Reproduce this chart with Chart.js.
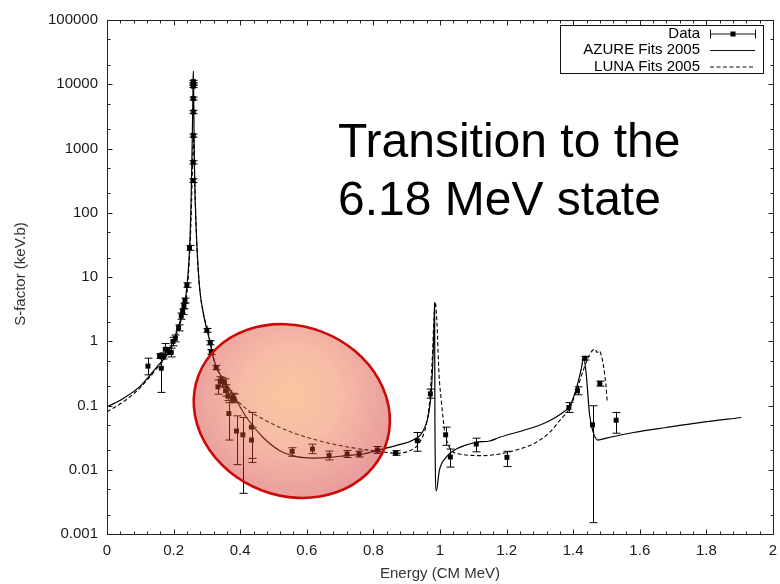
<!DOCTYPE html>
<html>
<head>
<meta charset="utf-8">
<script src="https://cdn.jsdelivr.net/npm/chart.js@4.4.1/dist/chart.umd.min.js"></script>
<style>
  html, body { margin: 0; padding: 0; background: #fff; }
  canvas { display: block; }
</style>
</head>
<body>
<canvas id="chart" width="780" height="584"></canvas>
<script>
// Measured S-factor points: energy (MeV, CM), value and error limits (keV b)
const energy = [0.123, 0.158, 0.163, 0.168, 0.175, 0.183, 0.193, 0.198, 0.205, 0.215, 0.223, 0.227, 0.231, 0.234, 0.240, 0.248,
  0.2585, 0.2588, 0.2590, 0.2591, 0.2591, 0.2591, 0.2591, 0.2591,
  0.300, 0.310, 0.313, 0.328, 0.333, 0.340, 0.346, 0.353, 0.356, 0.363, 0.366, 0.377, 0.381, 0.389, 0.408, 0.434, 0.434,
  0.556, 0.617, 0.667, 0.721, 0.757, 0.812, 0.867, 0.932, 0.971, 1.017, 1.031, 1.109, 1.201,
  1.387, 1.413, 1.435, 1.458, 1.480, 1.529];
const sFactor = [0.41, 0.59, 0.38, 0.59, 0.75, 0.71, 0.67, 0.99, 1.11, 1.63, 2.47, 2.90, 3.53, 4.33, 7.5, 28.4,
  316, 610, 1590, 3700, 6000, 9300, 10000, 11000,
  1.48, 0.95, 0.68, 0.39, 0.195, 0.24, 0.235, 0.227, 0.17, 0.14, 0.075, 0.133, 0.128, 0.040, 0.035, 0.046, 0.029,
  0.0193, 0.021, 0.0166, 0.0176, 0.0176, 0.0203, 0.0182, 0.0283, 0.152, 0.035, 0.0158, 0.0251, 0.0156,
  0.093, 0.169, 0.544, 0.050, 0.22, 0.059];
const errLow = [0.30, 0.54, 0.16, 0.53, 0.62, 0.62, 0.57, 0.85, 0.98, 1.45, 2.20, 2.60, 3.20, 3.95, 6.9, 26,
  295, 575, 1500, 3500, 5700, 8900, 9600, 10500,
  1.38, 0.88, 0.62, 0.36, 0.15, 0.20, 0.20, 0.19, 0.14, 0.12, 0.029, 0.115, 0.11, 0.012, 0.0043, 0.015, 0.013,
  0.0162, 0.0178, 0.0142, 0.0155, 0.0158, 0.018, 0.0168, 0.0194, 0.13, 0.024, 0.011, 0.019, 0.0112,
  0.078, 0.147, 0.51, 0.0015, 0.20, 0.037];
const errHigh = [0.545, 0.64, 0.60, 0.66, 0.92, 0.80, 0.78, 1.15, 1.25, 1.80, 2.75, 3.20, 3.90, 4.70, 8.1, 31,
  338, 645, 1680, 3900, 6300, 9700, 10400, 11500,
  1.58, 1.02, 0.74, 0.42, 0.25, 0.28, 0.27, 0.26, 0.21, 0.17, 0.111, 0.155, 0.15, 0.069, 0.065, 0.078, 0.046,
  0.022, 0.025, 0.0195, 0.020, 0.0195, 0.023, 0.0198, 0.038, 0.18, 0.046, 0.021, 0.031, 0.0194,
  0.111, 0.195, 0.58, 0.099, 0.24, 0.078];

// AZURE R-matrix fit
const azureE = [0, 0.05, 0.10, 0.15, 0.18, 0.20, 0.22, 0.23, 0.24, 0.248, 0.252, 0.255, 0.257, 0.2585, 0.2592, 0.260, 0.261, 0.262, 0.263,
  0.268, 0.272, 0.278, 0.290, 0.300, 0.310, 0.318, 0.329, 0.350, 0.378, 0.419, 0.468, 0.519, 0.569, 0.619, 0.669, 0.719, 0.769, 0.819,
  0.869, 0.919, 0.949, 0.967, 0.974, 0.979, 0.9825, 0.9838, 0.9848, 0.989, 0.998, 1.018, 1.049, 1.109, 1.149, 1.179, 1.279, 1.329,
  1.369, 1.390, 1.410, 1.425, 1.431, 1.439, 1.449, 1.459, 1.474, 1.500, 1.580, 1.680, 1.780, 1.905];
const azureS = [0.095, 0.13, 0.20, 0.40, 0.62, 1.05, 2.1, 3.3, 7.0, 28, 120, 700, 3000, 10000, 16000, 10000, 3000, 1000, 400,
  55, 20, 6.8, 2.6, 1.5, 0.95, 0.59, 0.39, 0.25, 0.15, 0.065, 0.032, 0.0198, 0.016, 0.0152, 0.0156, 0.0166, 0.0176, 0.0205,
  0.024, 0.029, 0.040, 0.08, 0.17, 0.56, 2.0, 4.0, 0.05, 0.0047, 0.0097, 0.0156, 0.021, 0.0267, 0.028, 0.032, 0.0455, 0.058,
  0.078, 0.099, 0.19, 0.39, 0.56, 0.31, 0.073, 0.040, 0.029, 0.031, 0.038, 0.0455, 0.054, 0.065];

// LUNA fit
const lunaE = [0, 0.05, 0.10, 0.15, 0.18, 0.20, 0.22, 0.24, 0.245, 0.25, 0.254, 0.257, 0.260, 0.262, 0.264, 0.268, 0.272, 0.278,
  0.290, 0.303, 0.310, 0.318, 0.329, 0.350, 0.378, 0.419, 0.468, 0.519, 0.569, 0.619, 0.669, 0.719, 0.769, 0.819, 0.869, 0.919,
  0.939, 0.959, 0.969, 0.977, 0.982, 0.986, 0.991, 0.997, 1.004, 1.014, 1.029, 1.059, 1.129, 1.179, 1.229, 1.279, 1.329, 1.359,
  1.390, 1.410, 1.430, 1.450, 1.465, 1.472, 1.478, 1.490, 1.498, 1.502];
const lunaS = [0.08, 0.115, 0.19, 0.38, 0.60, 0.95, 1.9, 5.5, 12, 35, 150, 600, 1500, 700, 250, 50, 18, 6.8,
  2.6, 1.5, 0.95, 0.60, 0.39, 0.24, 0.145, 0.088, 0.0615, 0.0455, 0.036, 0.030, 0.0257, 0.0228, 0.0207, 0.0193, 0.018, 0.021,
  0.0267, 0.051, 0.118, 0.56, 2.3, 4.0, 1.84, 0.31, 0.118, 0.040, 0.022, 0.0176, 0.0166, 0.0176, 0.0203, 0.0251, 0.038, 0.058,
  0.093, 0.169, 0.35, 0.63, 0.75, 0.67, 0.71, 0.44, 0.215, 0.118];

const xTickValues = [0, 0.2, 0.4, 0.6, 0.8, 1, 1.2, 1.4, 1.6, 1.8, 2];
const yTickValues = [0.001, 0.01, 0.1, 1, 10, 100, 1000, 10000, 100000];

const seriesLabels = ['Data', 'AZURE Fits 2005', 'LUNA Fits 2005'];
const headline = ['Transition to the', '6.18 MeV state'];
const xTitle = 'Energy (CM MeV)';
const yTitle = 'S-factor (keV.b)';

// Highlighted low-energy region, in data units (centre, half-widths in MeV and decades)
const highlight = { e: 0.555, s: 0.082, halfE: 0.30, halfDecades: 1.32, tiltDeg: 21 };

const FONT = '"Liberation Sans", Arial, Helvetica, sans-serif';
Chart.defaults.font.family = FONT;

const toPoints = (xs, ys) => xs.map((x, i) => ({ x: x, y: ys[i] }));

// Error bars, then the translucent highlight ellipse on top of the data
const overlayPlugin = {
  id: 'overlay',
  afterDatasetsDraw(chart) {
    const { ctx, scales: { x, y } } = chart;
    ctx.save();
    ctx.strokeStyle = '#000';
    ctx.lineWidth = 1;
    ctx.beginPath();
    for (let i = 0; i < energy.length; i++) {
      const px = Math.round(x.getPixelForValue(energy[i])) + 0.5;
      const y1 = y.getPixelForValue(errLow[i]);
      const y2 = y.getPixelForValue(errHigh[i]);
      ctx.moveTo(px, y1); ctx.lineTo(px, y2);
      ctx.moveTo(px - 4, y1); ctx.lineTo(px + 4, y1);
      ctx.moveTo(px - 4, y2); ctx.lineTo(px + 4, y2);
    }
    ctx.stroke();

    const cx = x.getPixelForValue(highlight.e);
    const cy = y.getPixelForValue(highlight.s);
    const rx = x.getPixelForValue(highlight.e + highlight.halfE) - cx;
    const ry = cy - y.getPixelForValue(highlight.s * Math.pow(10, highlight.halfDecades));
    ctx.translate(cx, cy);
    ctx.rotate(highlight.tiltDeg * Math.PI / 180);
    const g = ctx.createRadialGradient(-6, -14, 0, -6, -14, Math.max(rx, ry) * 1.05);
    g.addColorStop(0, 'rgba(250,128,40,0.45)');
    g.addColorStop(0.45, 'rgba(236,100,48,0.43)');
    g.addColorStop(1, 'rgba(205,35,35,0.45)');
    ctx.beginPath();
    ctx.ellipse(0, 0, rx, ry, 0, 0, Math.PI * 2);
    ctx.fillStyle = g;
    ctx.fill();
    ctx.lineWidth = 2.6;
    ctx.strokeStyle = '#cc0a0a';
    ctx.stroke();
    ctx.restore();
  }
};

// Frame, inward ticks, axis titles, legend box and headline
const decorPlugin = {
  id: 'decor',
  afterDraw(chart) {
    const { ctx, chartArea: a, scales: { x, y } } = chart;
    ctx.save();
    ctx.strokeStyle = '#222';
    ctx.lineWidth = 1;
    const L = Math.round(a.left) + 0.5, R = Math.round(a.right) + 0.5;
    const T = Math.round(a.top) + 0.5, B = Math.round(a.bottom) + 0.5;
    ctx.strokeRect(L, T, R - L, B - T);

    ctx.beginPath();
    for (let k = 0; k <= 50; k++) {
      const v = k * 0.04;
      const px = Math.round(x.getPixelForValue(v)) + 0.5;
      const len = (k % 5 === 0) ? 5 : 3;
      ctx.moveTo(px, B); ctx.lineTo(px, B - len);
      ctx.moveTo(px, T); ctx.lineTo(px, T + len);
    }
    for (let d = -3; d <= 5; d++) {
      [1, 2, 5].forEach(m => {
        const v = m * Math.pow(10, d);
        if (v > 100000 * 1.0001) return;
        const py = Math.round(y.getPixelForValue(v)) + 0.5;
        const len = m === 1 ? 5 : 3;
        ctx.moveTo(L, py); ctx.lineTo(L + len, py);
        ctx.moveTo(R, py); ctx.lineTo(R - len, py);
      });
    }
    ctx.stroke();

    // axis titles
    ctx.fillStyle = '#333';
    ctx.font = '15px ' + FONT;
    ctx.textAlign = 'center';
    ctx.textBaseline = 'middle';
    ctx.fillText(xTitle, (a.left + a.right) / 2, 574);
    ctx.save();
    ctx.translate(21, 274);
    ctx.rotate(-Math.PI / 2);
    ctx.fillText(yTitle, 0, 0);
    ctx.restore();

    // legend
    ctx.strokeStyle = '#111';
    ctx.strokeRect(560.5, 25.5, 203, 48);
    ctx.fillStyle = '#000';
    ctx.font = '15px ' + FONT;
    ctx.textAlign = 'right';
    const rows = [33.5, 50, 66.5];
    rows.forEach((ry, i) => ctx.fillText(seriesLabels[i], 700, ry));
    ctx.beginPath();
    ctx.moveTo(710, rows[0] + 0.5); ctx.lineTo(755, rows[0] + 0.5);
    ctx.moveTo(710.5, rows[0] - 4); ctx.lineTo(710.5, rows[0] + 5);
    ctx.moveTo(755.5, rows[0] - 4); ctx.lineTo(755.5, rows[0] + 5);
    ctx.moveTo(710, rows[1] + 0.5); ctx.lineTo(755, rows[1] + 0.5);
    ctx.stroke();
    ctx.fillRect(730.5, rows[0] - 2, 5, 5);
    ctx.setLineDash([4, 2.5]);
    ctx.beginPath();
    ctx.moveTo(710, rows[2] + 0.5); ctx.lineTo(755, rows[2] + 0.5);
    ctx.stroke();
    ctx.setLineDash([]);

    // headline
    ctx.fillStyle = '#000';
    ctx.font = '48px ' + FONT;
    ctx.textAlign = 'left';
    ctx.textBaseline = 'alphabetic';
    ctx.fillText(headline[0], 338, 157);
    ctx.fillText(headline[1], 338, 215);
    ctx.restore();
  }
};

new Chart(document.getElementById('chart'), {
  type: 'scatter',
  data: {
    datasets: [
      {
        label: seriesLabels[0],
        data: toPoints(energy, sFactor),
        pointStyle: 'rect',
        pointRadius: 3.5,
        pointBackgroundColor: '#000',
        pointBorderWidth: 0,
        showLine: false
      },
      {
        label: seriesLabels[1],
        data: toPoints(azureE, azureS),
        showLine: true,
        borderColor: '#000',
        borderWidth: 1.2,
        pointRadius: 0,
        cubicInterpolationMode: 'monotone'
      },
      {
        label: seriesLabels[2],
        data: toPoints(lunaE, lunaS),
        showLine: true,
        borderColor: '#000',
        borderWidth: 1.1,
        borderDash: [4, 2.5],
        pointRadius: 0,
        cubicInterpolationMode: 'monotone'
      }
    ]
  },
  options: {
    responsive: false,
    animation: false,
    devicePixelRatio: 1,
    layout: { padding: { left: 0, right: 7, top: 20, bottom: 0 } },
    plugins: { legend: { display: false }, tooltip: { enabled: false } },
    scales: {
      x: {
        type: 'linear', min: 0, max: 2,
        grid: { display: false, drawTicks: false },
        border: { display: false },
        afterBuildTicks: s => { s.ticks = xTickValues.map(v => ({ value: v })); },
        ticks: {
          padding: 8, color: '#1a1a1a', font: { size: 15 }, maxRotation: 0, autoSkip: false,
          callback: v => String(Number(Number(v).toFixed(1)))
        },
        afterFit: s => { s.height = 50; s.paddingLeft = 0; s.paddingRight = 0; }
      },
      y: {
        type: 'logarithmic', min: 0.001, max: 100000,
        grid: { display: false, drawTicks: false },
        border: { display: false },
        afterBuildTicks: s => { s.ticks = yTickValues.map(v => ({ value: v })); },
        ticks: {
          padding: 9, color: '#1a1a1a', font: { size: 15 }, autoSkip: false,
          callback: v => String(v)
        },
        afterFit: s => { s.width = 107; s.paddingTop = 0; s.paddingBottom = 0; }
      }
    }
  },
  plugins: [overlayPlugin, decorPlugin]
});
</script>
</body>
</html>
